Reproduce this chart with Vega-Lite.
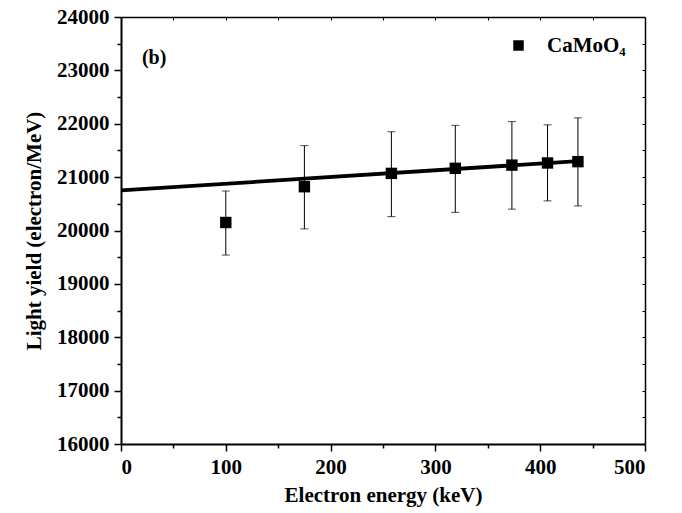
{
  "$schema": "https://vega.github.io/schema/vega-lite/v6.json",
  "width": 524,
  "height": 427,
  "autosize": {"type": "none"},
  "padding": {"left": 121, "top": 17, "right": 37, "bottom": 69},
  "background": "white",
  "config": {
    "font": "Liberation Serif",
    "view": {"stroke": null},
    "axis": {"grid": false, "labelFont": "Liberation Serif", "titleFont": "Liberation Serif", "labelFontWeight": "bold", "titleFontWeight": "bold", "labelColor": "black", "titleColor": "black", "domainColor": "black", "tickColor": "black", "labelFontSize": 21, "titleFontSize": 21}
  },
  "datasets": {
    "pts": [
      {"energy": 100, "ly": 20150, "low": 19540, "high": 20740, "series": "CaMoO₄"},
      {"energy": 175, "ly": 20820, "low": 20030, "high": 21590, "series": "CaMoO₄"},
      {"energy": 258, "ly": 21070, "low": 20260, "high": 21850, "series": "CaMoO₄"},
      {"energy": 319, "ly": 21165, "low": 20340, "high": 21970, "series": "CaMoO₄"},
      {"energy": 373, "ly": 21225, "low": 20400, "high": 22040, "series": "CaMoO₄"},
      {"energy": 407, "ly": 21265, "low": 20555, "high": 21980, "series": "CaMoO₄"},
      {"energy": 436, "ly": 21290, "low": 20460, "high": 22110, "series": "CaMoO₄"}
    ],
    "fit": [
      {"energy": 0, "ly": 20750},
      {"energy": 436, "ly": 21300}
    ],
    "lab": [
      {"energy": 20, "ly": 23230, "text": "(b)"}
    ]
  },
  "resolve": {"axis": {"x": "independent", "y": "independent"}},
  "layer": [
    {
      "data": {"name": "pts"},
      "mark": {"type": "rule", "color": "black", "strokeWidth": 1},
      "encoding": {
        "x": {"field": "energy", "type": "quantitative", "scale": {"domain": [0, 500], "nice": false, "zero": false},
          "axis": {"orient": "bottom", "values": [0, 100, 200, 300, 400, 500], "tickSize": 7, "tickWidth": 1.5, "domainWidth": 2, "labelPadding": 5, "title": "Electron energy (keV)", "titlePadding": 7}},
        "y": {"field": "low", "type": "quantitative", "scale": {"domain": [16000, 24000], "nice": false, "zero": false},
          "axis": {"orient": "left", "values": [16000, 17000, 18000, 19000, 20000, 21000, 22000, 23000, 24000], "format": "d", "tickSize": 7, "tickWidth": 1.5, "domainWidth": 2, "labelPadding": 5, "title": "Light yield (electron/MeV)", "titlePadding": 12}},
        "y2": {"field": "high"}
      }
    },
    {
      "data": {"name": "pts"},
      "mark": {"type": "tick", "orient": "horizontal", "color": "black", "size": 8, "thickness": 1},
      "encoding": {
        "x": {"field": "energy", "type": "quantitative", "scale": {"domain": [0, 500], "nice": false, "zero": false},
          "axis": {"orient": "bottom", "values": [50, 150, 250, 350, 450], "labels": false, "domain": false, "tickSize": 4, "tickWidth": 1.5, "title": null}},
        "y": {"field": "low", "type": "quantitative", "scale": {"domain": [16000, 24000], "nice": false, "zero": false},
          "axis": {"orient": "left", "values": [16500, 17500, 18500, 19500, 20500, 21500, 22500, 23500], "labels": false, "domain": false, "tickSize": 4, "tickWidth": 1.5, "title": null}}
      }
    },
    {
      "data": {"name": "pts"},
      "mark": {"type": "tick", "orient": "horizontal", "color": "black", "size": 8, "thickness": 1},
      "encoding": {
        "x": {"field": "energy", "type": "quantitative", "scale": {"domain": [0, 500], "nice": false, "zero": false},
          "axis": {"orient": "top", "values": [50, 100, 150, 200, 250, 300, 350, 400, 450], "labels": false, "domainWidth": 1.5, "tickSize": -3, "tickWidth": 1, "title": null}},
        "y": {"field": "high", "type": "quantitative", "scale": {"domain": [16000, 24000], "nice": false, "zero": false},
          "axis": {"orient": "right", "values": [16500, 17000, 17500, 18000, 18500, 19000, 19500, 20000, 20500, 21000, 21500, 22000, 22500, 23000, 23500], "labels": false, "domainWidth": 1.5, "tickSize": -3, "tickWidth": 1, "title": null}}
      }
    },
    {
      "data": {"name": "fit"},
      "mark": {"type": "line", "color": "black", "strokeWidth": 3.8},
      "encoding": {
        "x": {"field": "energy", "type": "quantitative", "scale": {"domain": [0, 500], "nice": false, "zero": false}, "axis": null},
        "y": {"field": "ly", "type": "quantitative", "scale": {"domain": [16000, 24000], "nice": false, "zero": false}, "axis": null}
      }
    },
    {
      "data": {"name": "pts"},
      "mark": {"type": "point", "filled": true, "opacity": 1, "size": 130},
      "encoding": {
        "x": {"field": "energy", "type": "quantitative", "scale": {"domain": [0, 500], "nice": false, "zero": false}, "axis": null},
        "y": {"field": "ly", "type": "quantitative", "scale": {"domain": [16000, 24000], "nice": false, "zero": false}, "axis": null},
        "shape": {"field": "series", "type": "nominal", "scale": {"range": ["square"]},
          "legend": {"title": null, "orient": "none", "legendX": 387, "legendY": 18, "padding": 0, "symbolSize": 110, "symbolFillColor": "black", "symbolStrokeColor": "black", "symbolStrokeWidth": 0, "labelOffset": 18, "labelFont": "Liberation Serif", "labelFontWeight": "bold", "labelFontSize": 21, "labelColor": "black"}},
        "color": {"value": "black"}
      }
    },
    {
      "data": {"name": "lab"},
      "mark": {"type": "text", "align": "left", "baseline": "middle", "font": "Liberation Serif", "fontWeight": "bold", "fontSize": 20, "color": "black"},
      "encoding": {
        "x": {"field": "energy", "type": "quantitative", "scale": {"domain": [0, 500], "nice": false, "zero": false}, "axis": null},
        "y": {"field": "ly", "type": "quantitative", "scale": {"domain": [16000, 24000], "nice": false, "zero": false}, "axis": null},
        "text": {"field": "text"}
      }
    }
  ]
}
